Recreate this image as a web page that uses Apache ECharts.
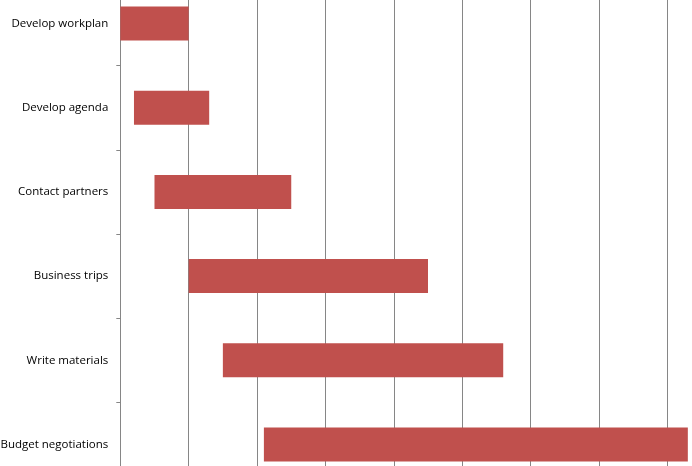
<!DOCTYPE html>
<html>
<head>
<meta charset="utf-8">
<script src="https://cdn.jsdelivr.net/npm/echarts@6/dist/echarts.min.js"></script>
<style>
  html, body { margin: 0; padding: 0; background: #fff; overflow: hidden; }
  body { width: 692px; height: 466px; position: relative; }
  /* the chart is larger than the window: the reference shows a cropped plot */
  #chart { position: absolute; left: 0; top: -40px; width: 800px; height: 560px; }
</style>
</head>
<body>
<div id="chart"></div>
<script>
// tasks, top to bottom
const tasks = [
  'Develop workplan',
  'Develop agenda',
  'Contact partners',
  'Business trips',
  'Write materials',
  'Budget negotiations'
];
// start offset of each task (in grid units)
const startValues = [0, 0.2, 0.5, 1, 1.5, 2.1];
// length of each task
const durations = [1, 1.1, 2, 3.5, 4.1, 6.2];

const chart = echarts.init(document.getElementById('chart'));

const option = {
  animation: false,
  backgroundColor: '#ffffff',
  grid: {
    left: 120.3,
    top: 21.5,
    width: 615.4,
    height: 505,
    containLabel: false,
    outerBoundsMode: 'none'
  },
  xAxis: {
    type: 'value',
    min: 0,
    max: 9,
    interval: 1,
    axisLabel: { show: false },
    axisTick: { show: false },
    axisLine: { show: false },
    splitLine: { lineStyle: { color: '#868686', width: 1 } }
  },
  yAxis: {
    type: 'category',
    data: tasks,
    inverse: true,
    axisLine: { show: true, lineStyle: { color: '#868686', width: 1 } },
    axisTick: { show: true, length: 4, lineStyle: { color: '#868686' } },
    axisLabel: {
      margin: 12,
      color: '#000',
      fontFamily: 'Open Sans',
      fontSize: 11.5
    },
    splitLine: { show: false }
  },
  series: [
    {
      name: 'Start',
      type: 'bar',
      stack: 'plan',
      data: startValues,
      barWidth: 34,
      itemStyle: { color: 'transparent' },
      silent: true
    },
    {
      name: 'Duration',
      type: 'bar',
      stack: 'plan',
      data: durations,
      barWidth: 34,
      itemStyle: { color: '#C0504D' }
    }
  ]
};

chart.setOption(option);
</script>
</body>
</html>
